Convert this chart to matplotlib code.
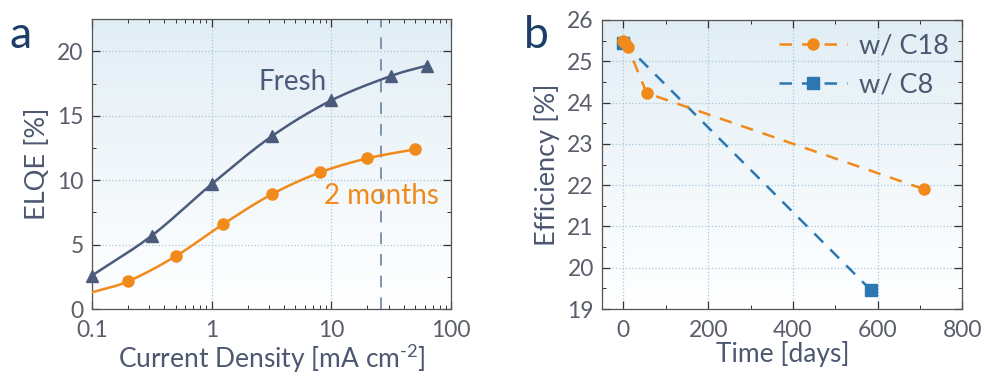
import numpy as np
import matplotlib
matplotlib.use("Agg")
import matplotlib.pyplot as plt
from matplotlib.ticker import MultipleLocator, LogLocator, FixedLocator, FixedFormatter, NullFormatter

plt.rcParams['font.family'] = ['Lato', 'DejaVu Sans']
plt.rcParams['mathtext.fontset'] = 'custom'
plt.rcParams['mathtext.rm'] = 'Lato'

# panel a data
fresh_j = [0.1, 0.316, 1.0, 3.16, 10.0, 31.6, 63.0]
fresh_eqe = [2.6, 5.7, 9.7, 13.4, 16.2, 18.1, 18.9]
aged_j = [0.2, 0.5, 1.25, 3.16, 8.0, 20.0, 50.0]
aged_eqe = [2.15, 4.1, 6.6, 8.9, 10.6, 11.7, 12.4]
# the fitted line of the aged curve starts at the axis edge
aged_line_j = [0.1] + aged_j
aged_line_eqe = [1.3] + aged_eqe
j_mark = 26.0

# panel b data
c18_days = [0, 4, 10, 55, 710]
c18_eff = [25.5, 25.45, 25.35, 24.23, 21.9]
c8_days = [0, 585]
c8_eff = [25.45, 19.45]

c_fresh = '#4b5b7c'
c_orange = '#f18a1a'
c_blue = '#2b77b2'
c_text = '#4c5870'
c_tick = '#5a5e6a'
c_navy = '#1d3e68'


def smooth(xs, ys, n=30):
    # catmull-rom curve through the points, used only for drawing the line
    x = np.array(xs, float)
    y = np.array(ys, float)
    px = np.concatenate([[2 * x[0] - x[1]], x, [2 * x[-1] - x[-2]]])
    py = np.concatenate([[2 * y[0] - y[1]], y, [2 * y[-1] - y[-2]]])
    ox, oy = [], []
    t = np.linspace(0, 1, n)
    for i in range(1, len(px) - 2):
        for arr, out in ((px, ox), (py, oy)):
            p0, p1, p2, p3 = arr[i - 1], arr[i], arr[i + 1], arr[i + 2]
            out.extend(0.5 * (2 * p1 + (-p0 + p2) * t + (2 * p0 - 5 * p1 + 4 * p2 - p3) * t ** 2
                              + (-p0 + 3 * p1 - 3 * p2 + p3) * t ** 3))
    return np.array(ox), np.array(oy)


def gradient(ax):
    g = np.linspace(0, 1, 256).reshape(-1, 1)
    top = np.array([0.88, 0.93, 0.96])
    bot = np.array([1.0, 1.0, 1.0])
    img = top + (bot - top) * g[..., None] ** 0.9
    ax.imshow(img, extent=[0, 1, 0, 1], transform=ax.transAxes, aspect='auto',
              zorder=0, origin='upper')


def style(ax):
    ax.tick_params(which='both', direction='in', top=True, right=True,
                   colors='#333333', labelcolor=c_tick, labelsize=16.5, pad=6)
    ax.tick_params(axis='x', pad=8)
    ax.tick_params(which='major', length=6, width=0.9)
    ax.tick_params(which='minor', length=3, width=0.7)
    for s in ax.spines.values():
        s.set_color('#555555')
        s.set_linewidth(0.9)
    ax.grid(True, which='major', color='#a6c8de', linestyle=':', linewidth=0.9)
    ax.set_axisbelow(True)


fig = plt.figure(figsize=(9.84, 3.76), dpi=100)

# ---- panel a
ax1 = fig.add_axes([0.0935, 0.178, 0.365, 0.771])
gradient(ax1)
ax1.set_xscale('log')
ax1.set_xlim(0.1, 100)
ax1.set_ylim(0, 22.5)
lx, ly = smooth(np.log10(fresh_j), fresh_eqe)
ax1.plot(10 ** lx, ly, color=c_fresh, lw=1.8, zorder=3)
ax1.plot(fresh_j, fresh_eqe, '^', color=c_fresh, ms=9, zorder=4, clip_on=False)
lx, ly = smooth(np.log10(aged_line_j), aged_line_eqe)
ax1.plot(10 ** lx, ly, color=c_orange, lw=1.8, zorder=3)
ax1.plot(aged_j, aged_eqe, 'o', color=c_orange, ms=8, zorder=4)
ax1.axvline(j_mark, color='#6b82a0', lw=1.2, dashes=(7, 6), zorder=2)
ax1.xaxis.set_major_locator(FixedLocator([0.1, 1, 10, 100]))
ax1.xaxis.set_major_formatter(FixedFormatter(['0.1', '1', '10', '100']))
ax1.xaxis.set_minor_locator(LogLocator(base=10, subs=np.arange(2, 10)))
ax1.xaxis.set_minor_formatter(NullFormatter())
ax1.yaxis.set_major_locator(MultipleLocator(5))
ax1.yaxis.set_minor_locator(MultipleLocator(2.5))
style(ax1)
ax1.set_xlabel(r'Current Density [mA cm$^{\text{-2}}$]', fontsize=19, color=c_text, labelpad=0)
ax1.set_ylabel('ELQE [%]', fontsize=19.5, color=c_text, labelpad=5)
ax1.text(4.75, 17.6, 'Fresh', fontsize=20, color=c_fresh, ha='center', va='center')
ax1.text(8.6, 8.8, '2 months', fontsize=20, color=c_orange, ha='left', va='center')
fig.text(0.010, 0.905, 'a', fontsize=32, color=c_navy, ha='left', va='center')

# ---- panel b
ax2 = fig.add_axes([0.612, 0.178, 0.366, 0.769])
gradient(ax2)
ax2.set_xlim(-50, 800)
ax2.set_ylim(19, 26)
ax2.plot(c18_days, c18_eff, color=c_orange, lw=1.8, dashes=(5, 4), marker='o',
         ms=8, label='w/ C18', zorder=4)
ax2.plot(c8_days, c8_eff, color=c_blue, lw=1.8, dashes=(5, 4), marker='s',
         ms=8, label='w/ C8', zorder=3)
ax2.xaxis.set_major_locator(MultipleLocator(200))
ax2.xaxis.set_minor_locator(MultipleLocator(100))
ax2.yaxis.set_major_locator(MultipleLocator(1))
ax2.yaxis.set_minor_locator(MultipleLocator(0.5))
style(ax2)
ax2.set_xlabel('Time [days]', fontsize=19, color=c_text, labelpad=0)
ax2.set_ylabel('Efficiency [%]', fontsize=19.5, color=c_text, labelpad=5)
leg = ax2.legend(loc='upper right', frameon=False, fontsize=19.5, handlelength=2.5,
                 handletextpad=0.45, labelspacing=0.5, borderaxespad=0.1)
for t in leg.get_texts():
    t.set_color(c_text)
fig.text(0.532, 0.905, 'b', fontsize=32, color=c_navy, ha='left', va='center')

fig.savefig('out.png', dpi=100)
